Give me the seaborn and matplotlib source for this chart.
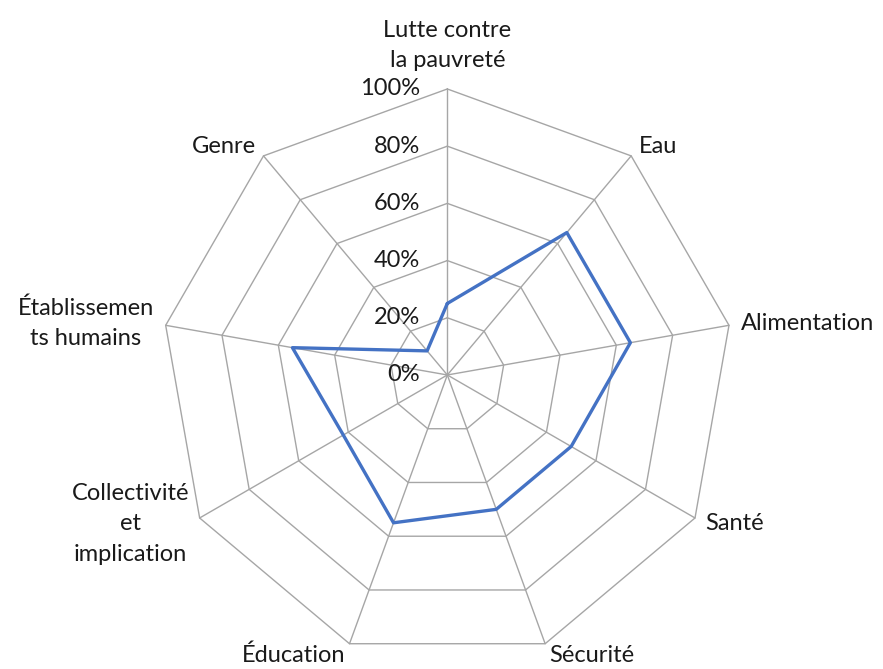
import numpy as np
import pandas as pd
import matplotlib
matplotlib.use('Agg')
import matplotlib.pyplot as plt
import matplotlib.transforms as mtransforms
import seaborn as sns

categories = [
    'Lutte contre\nla pauvreté', 'Eau', 'Alimentation', 'Santé', 'Sécurité',
    'Éducation', 'Collectivité\net\nimplication', 'Établissemen\nts humains', 'Genre',
]
values = [0.25, 0.65, 0.65, 0.50, 0.50, 0.55, 0.42, 0.55, 0.11]
levels = [0.0, 0.2, 0.4, 0.6, 0.8, 1.0]
level_labels = ['0%', '20%', '40%', '60%', '80%', '100%']

sns.set_style('white')
plt.rcParams['font.family'] = ['Lato', 'DejaVu Sans']

GRID = '#A6A6A6'
LINE = '#4472C4'
FS = 17

n = len(categories)
theta = np.linspace(0, 2 * np.pi, n, endpoint=False)

fig = plt.figure(figsize=(8.83, 6.69), dpi=100)
ax = fig.add_axes([0.1827, 0.012, 0.6478, 0.855], projection='polar')
ax.set_theta_zero_location('N')
ax.set_theta_direction(-1)
ax.set_ylim(0, 1)
ax.grid(False)
ax.spines['polar'].set_visible(False)
ax.set_xticks([])
ax.set_yticks([])
ax.patch.set_alpha(0)

# polygon grid + spokes
closed = np.append(theta, theta[0])
for lv in levels[1:]:
    ax.plot(closed, [lv] * (n + 1), color=GRID, lw=1, clip_on=False, zorder=1)
for t in theta:
    ax.plot([t, t], [0, 1], color=GRID, lw=1, clip_on=False, zorder=1)

df = pd.DataFrame({'theta': closed, 'value': values + values[:1]})
sns.lineplot(data=df, x='theta', y='value', sort=False, estimator=None,
             color=LINE, lw=2.4, ax=ax, zorder=3)
for line in ax.lines:
    line.set_clip_on(False)
ax.set_xlabel('')
ax.set_ylabel('')

# category labels
for t, lab in zip(theta, categories):
    s, c = np.sin(t), np.cos(t)
    if abs(s) < 0.1:
        ha, va, gap = 'center', 'bottom', 18
    else:
        ha, va, gap = ('left' if s > 0 else 'right'), 'center', 12
    tr = mtransforms.offset_copy(ax.transData, fig=fig, x=gap * s, y=gap * c, units='dots')
    ax.text(t, 1.0, lab, transform=tr, ha=ha, va=va, ma='center',
            fontsize=FS, color='#1a1a1a', linespacing=1.55)

# radial labels
tr = mtransforms.offset_copy(ax.transData, fig=fig, x=-27, y=0, units='dots')
for lv, lab in zip(levels, level_labels):
    ax.text(0, lv, lab, transform=tr, ha='right', va='center', fontsize=FS, color='#1a1a1a')

fig.savefig('out.png', dpi=100)
